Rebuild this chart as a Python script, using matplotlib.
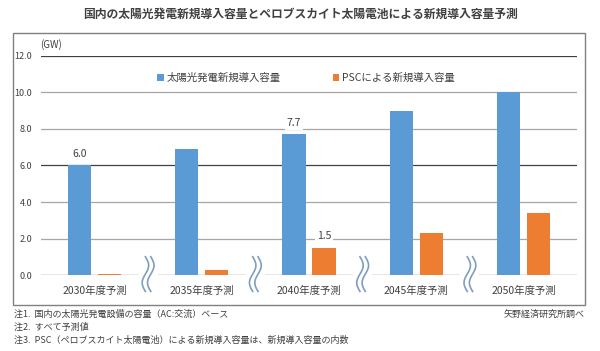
import numpy as np
import matplotlib.pyplot as plt
from matplotlib.patches import Rectangle

plt.rcParams['font.family'] = ['Noto Sans CJK JP', 'DejaVu Sans']

# data
categories = ['2030年度予測', '2035年度予測', '2040年度予測', '2045年度予測', '2050年度予測']
solar_total = [6.0, 6.9, 7.7, 9.0, 10.0]
psc = [0.05, 0.25, 1.5, 2.3, 3.4]
yticks = [0, 2, 4, 6, 8, 10, 12]
labeled_solar = {0: '6.0', 2: '7.7'}
labeled_psc = {2: '1.5'}
notes = ['注1.  国内の太陽光発電設備の容量（AC:交流）ベース',
         '注2.  すべて予測値',
         '注3.  PSC（ペロブスカイト太陽電池）による新規導入容量は、新規導入容量の内数']

blue = '#5B9BD5'
orange = '#ED7D31'
txt = '#404040'

fig = plt.figure(figsize=(6, 3.51), dpi=100)
ax = fig.add_axes([0.068, 0.2165, 0.894, 0.624])

# frame around the chart
fig.patches.append(Rectangle((13/600, 1-305/351), 572/600, 272/351, transform=fig.transFigure,
                             fill=False, edgecolor='#808080', linewidth=1.0))

x = np.arange(len(categories))
w = 0.215
off = 0.14
ax.bar(x - off, solar_total, w, color=blue, label='太陽光発電新規導入容量', zorder=3)
ax.bar(x + off, psc, w, color=orange, label='PSCによる新規導入容量', zorder=3)

# gridlines
for t in yticks:
    dark = t in (0, 6, 12)
    ax.axhline(t, color='#404040' if dark else '#a6a6a6', linewidth=0.9, zorder=1)

for i, s in labeled_solar.items():
    ax.text(x[i] - off, solar_total[i] + 0.35, s, ha='center', va='bottom', fontsize=7.5,
            color=txt, zorder=4, bbox=dict(facecolor='white', edgecolor='none', pad=1.5))
for i, s in labeled_psc.items():
    ax.text(x[i] + off, psc[i] + 0.35, s, ha='center', va='bottom', fontsize=7.5,
            color=txt, zorder=4, bbox=dict(facecolor='white', edgecolor='none', pad=1.5))

# wavy break marks between categories
tt = np.linspace(0, 1, 60)
for b in x[:-1] + 0.5:
    ax.plot([b - 0.07, b + 0.07], [0, 0], color='white', linewidth=3, zorder=4, clip_on=False)
    for d in (-0.025, 0.025):
        ax.plot(b + d + 0.03 * np.sin(2 * np.pi * tt), 1.0 - 1.9 * tt,
                color='#7f9dbf', linewidth=1.2, zorder=5, clip_on=False)

ax.set_xlim(-0.5, len(categories) - 0.5)
ax.set_ylim(0, 12)
ax.set_yticks(yticks)
ax.set_yticklabels([f'{t:.1f}' for t in yticks], fontsize=6.5, color=txt)
ax.set_xticks(x)
ax.set_xticklabels(categories, fontsize=7.5, color=txt)
ax.tick_params(length=0, axis='y', pad=6)
ax.tick_params(length=0, axis='x', pad=8)
for sp in ax.spines.values():
    sp.set_visible(False)

ax.legend(loc='upper left', bbox_to_anchor=(0.2, 0.965), ncol=2, frameon=False, fontsize=7.5,
          handlelength=0.6, handleheight=0.6, handletextpad=0.3, columnspacing=5, labelcolor=txt)

fig.text(40/600, 1 - 45/351, '(GW)', fontsize=7, color=txt, va='center')
fig.text(0.5, 1 - 14/351, '国内の太陽光発電新規導入容量とペロブスカイト太陽電池による新規導入容量予測',
         ha='center', va='center', fontsize=8.5, color='#404040', fontweight='bold')
for k, n in enumerate(notes):
    fig.text(14/600, 1 - (314 + 13 * k)/351, n, fontsize=6.5, color=txt, va='center')
fig.text(585/600, 1 - 314/351, '矢野経済研究所調べ', fontsize=6.5, color=txt, va='center', ha='right')

fig.savefig('out.png', dpi=100)
